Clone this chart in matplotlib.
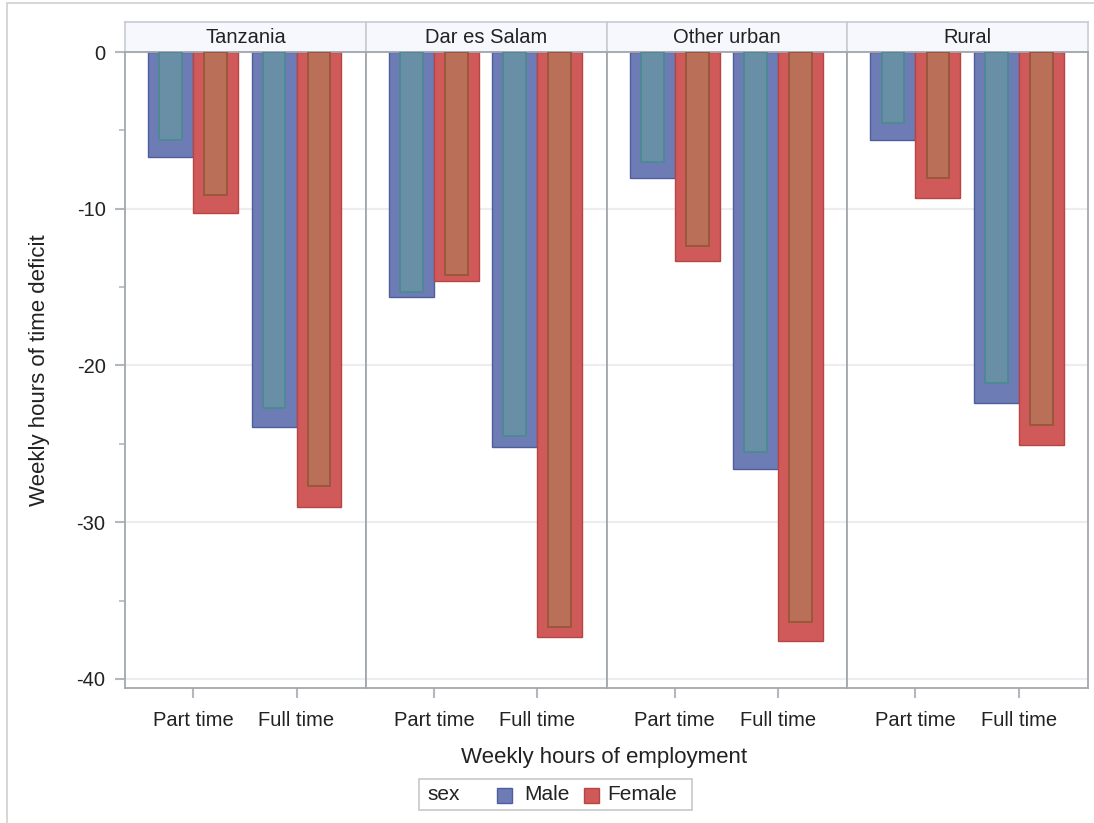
import matplotlib.pyplot as plt
from matplotlib.patches import Rectangle
from matplotlib.ticker import MultipleLocator

plt.rcParams['font.family'] = ['Liberation Sans', 'DejaVu Sans']
plt.rcParams['axes.unicode_minus'] = False

# datos
regiones = ['Tanzania', 'Dar es Salam', 'Other urban', 'Rural']
empleo = ['Part time', 'Full time']
hombre_ext = [[-6.7, -23.9], [-15.65, -25.2], [-8.05, -26.6], [-5.6, -22.4]]
hombre_int = [[-5.6, -22.7], [-15.3, -24.5], [-7.0, -25.55], [-4.5, -21.15]]
mujer_ext = [[-10.3, -29.0], [-14.6, -37.3], [-13.35, -37.6], [-9.3, -25.1]]
mujer_int = [[-9.1, -27.7], [-14.2, -36.7], [-12.4, -36.4], [-8.05, -23.8]]
sexos = ['Male', 'Female']

W, H = 1094, 823
C_HOMBRE = '#6E7CB5'
C_HOMBRE_BORDE = '#4E5E9C'
C_HOMBRE_INT = '#698FA7'
C_HOMBRE_INT_BORDE = '#4E8A93'
C_MUJER = '#D05A5A'
C_MUJER_BORDE = '#B84444'
C_MUJER_INT = '#BA7058'
C_MUJER_INT_BORDE = '#99583C'
C_TEXTO = '#222222'
C_EJE = '#A3A8AD'

fig = plt.figure(figsize=(W / 100, H / 100), dpi=100)
gs = fig.add_gridspec(2, 4, left=125 / W, right=1088 / W, top=1 - 22 / H,
                      bottom=1 - 688 / H, height_ratios=[30, 636],
                      hspace=0, wspace=0)

ancho = 0.435
ancho_int = 0.22
x = list(range(len(empleo)))

for i, region in enumerate(regiones):
    # cabecera del panel
    cab = fig.add_subplot(gs[0, i])
    cab.set_facecolor('#F7F8FD')
    cab.set_xticks([])
    cab.set_yticks([])
    for s in cab.spines.values():
        s.set_color('#C8CCD0')
        s.set_linewidth(1.2)
    cab.text(0.5, 0.48, region, ha='center', va='center', fontsize=14.5,
             color=C_TEXTO, transform=cab.transAxes)

    ax = fig.add_subplot(gs[1, i])
    xm = [v - ancho / 2 for v in x]
    xf = [v + ancho / 2 for v in x]
    ax.bar(xm, hombre_ext[i], width=ancho, color=C_HOMBRE,
           edgecolor=C_HOMBRE_BORDE, linewidth=1, zorder=2)
    ax.bar(xf, mujer_ext[i], width=ancho, color=C_MUJER,
           edgecolor=C_MUJER_BORDE, linewidth=1, zorder=2)
    ax.bar(xm, hombre_int[i], width=ancho_int, color=C_HOMBRE_INT,
           edgecolor=C_HOMBRE_INT_BORDE, linewidth=1.4, zorder=3)
    ax.bar(xf, mujer_int[i], width=ancho_int, color=C_MUJER_INT,
           edgecolor=C_MUJER_INT_BORDE, linewidth=1.4, zorder=3)

    ax.set_xlim(-0.66, 1.67)
    ax.set_ylim(-40.58, 0)
    ax.set_xticks(x)
    ax.set_xticklabels(empleo, fontsize=14.5, color=C_TEXTO)
    ax.tick_params(axis='x', length=7, width=1.5, color='#B4B8BC', pad=9.5)
    ax.yaxis.set_major_locator(MultipleLocator(10))
    ax.yaxis.set_minor_locator(MultipleLocator(5))
    ax.grid(axis='y', which='major', color='#EDEDED', linewidth=1.6, zorder=0)
    ax.set_axisbelow(True)
    for s in ax.spines.values():
        s.set_color(C_EJE)
        s.set_linewidth(1.3)
    if i == 0:
        ax.tick_params(axis='y', which='major', length=7, width=1.5,
                       color='#B4B8BC', pad=7, labelsize=14.5,
                       labelcolor=C_TEXTO)
        ax.tick_params(axis='y', which='minor', length=4, width=1.2,
                       color='#B4B8BC')
    else:
        ax.tick_params(axis='y', which='both', length=0, labelleft=False)

# etiquetas de ejes
fig.text(40 / W, 1 - 370 / H, 'Weekly hours of time deficit', rotation=90,
         ha='center', va='center', fontsize=16, color=C_TEXTO)
fig.text(604 / W, 1 - 757 / H, 'Weekly hours of employment',
         ha='center', va='center', fontsize=16, color=C_TEXTO)

# leyenda dibujada a mano (titulo en linea como en SAS)
fig.add_artist(Rectangle((419 / W, 1 - 810 / H), 273 / W, 31 / H,
                         transform=fig.transFigure, facecolor='white',
                         edgecolor='#C8C8C8', linewidth=1.2))
fig.text(427 / W, 1 - 795 / H, 'sex', ha='left', va='center',
         fontsize=15, color=C_TEXTO)
cajas = [(497, C_HOMBRE, C_HOMBRE_BORDE, 524),
         (584, C_MUJER, C_MUJER_BORDE, 607)]
for (x0, c, cb, xt), nombre in zip(cajas, sexos):
    fig.add_artist(Rectangle((x0 / W, 1 - 803 / H), 15 / W, 15 / H,
                             transform=fig.transFigure, facecolor=c,
                             edgecolor=cb, linewidth=1))
    fig.text(xt / W, 1 - 795 / H, nombre, ha='left', va='center',
             fontsize=15, color=C_TEXTO)

# marco exterior
fig.add_artist(Rectangle((7 / W, -0.1), 1.2, 1 - 3 / H + 0.1,
                         transform=fig.transFigure, facecolor='none',
                         edgecolor='#D0D0D0', linewidth=1.2))

fig.savefig('out.png', dpi=100)
plt.close()
